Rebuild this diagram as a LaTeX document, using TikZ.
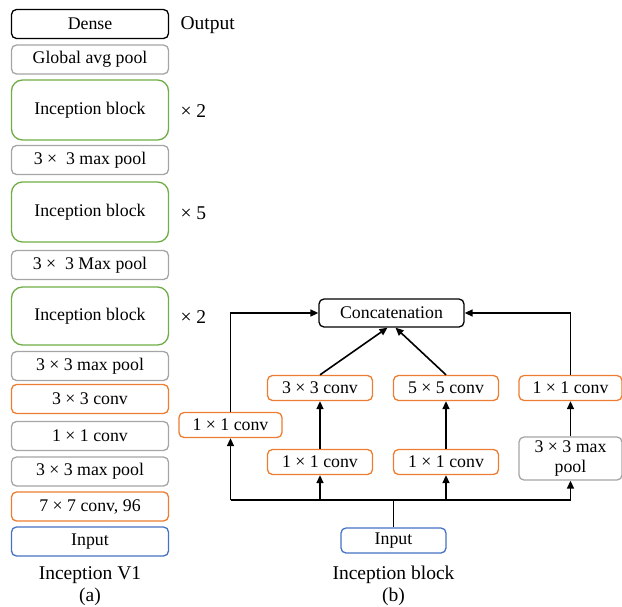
\documentclass[tikz,border=0pt]{standalone}
\usepackage{fontspec}
\setmainfont{Liberation Serif}
\usepackage{xcolor}
\usepackage{tikz}
\usetikzlibrary{arrows.meta}
\definecolor{boxgray}{HTML}{A5A5A5}
\definecolor{boxgreen}{HTML}{70AD47}
\definecolor{boxorange}{HTML}{ED7D31}
\definecolor{boxblue}{HTML}{4472C4}

\tikzset{
  layer/.style={draw=#1, line width=1.3pt, rounded corners=5pt, inner sep=0pt,
    minimum width=157pt, minimum height=29pt, align=center,
    font=\fontsize{17.8}{20}\selectfont},
  block/.style={layer=boxgreen, rounded corners=11pt, minimum height=60pt},
  unit/.style={layer=#1, minimum width=105pt, minimum height=25pt},
  tag/.style={font=\fontsize{19.5}{22}\selectfont},
  flow/.style={line width=1.6pt, -{Triangle[length=8pt,width=7pt]}},
  wire/.style={line width=1.6pt}
}

\begin{document}
\begin{tikzpicture}[x=1pt, y=-1pt]
    \useasboundingbox (0,0) rectangle (622,606);
    % (a) Inception V1
    \node[layer=black] (dense) at (90,24) {Dense};
    \node[layer=boxgray] (gap) at (90,59.5) {Global avg pool};
    \node[block] (inca) at (90,110) {Inception block};
    \node[layer=boxgray] (poola) at (90,160) {3 × \ 3 max pool};
    \node[block] (incb) at (90,212) {Inception block};
    \node[layer=boxgray] (poolb) at (90,265) {3 × \ 3 Max pool};
    \node[block, minimum height=58pt] (incc) at (90,316) {Inception block};
    \node[layer=boxgray] (poolc) at (90,366) {3 × 3 max pool};
    \node[layer=boxorange] (convc) at (90,399) {3 × 3 conv};
    \node[layer=boxgray] (convb) at (90,436) {1 × 1 conv};
    \node[layer=boxgray] (poold) at (90,471.5) {3 × 3 max pool};
    \node[layer=boxorange] (conva) at (90,506.5) {7 × 7 conv, 96};
    \node[layer=boxblue] (ina) at (90,541.5) {Input};
    \node[tag, anchor=west] (out) at (177,25) {Output};
    \node[tag, anchor=west] (repa) at (177,111) {× 2};
    \node[tag, anchor=west] (repb) at (177,213) {× 5};
    \node[tag, anchor=west] (repc) at (177,317) {× 2};
    \node[tag, align=center] (capa) at (90,586) {Inception V1\\(a)};

    % (b) Inception block
    \node[unit=black, minimum width=145pt, minimum height=28pt] (concat) at (391.5,313) {Concatenation};
    \node[unit=boxorange] (cthree) at (320,388) {3 × 3 conv};
    \node[unit=boxorange] (cfive) at (446,388) {5 × 5 conv};
    \node[unit=boxorange, minimum width=103pt] (cpool) at (570.5,388) {1 × 1 conv};
    \node[unit=boxorange, minimum width=103pt] (cone) at (230.5,425) {1 × 1 conv};
    \node[unit=boxorange] (rthree) at (320,462) {1 × 1 conv};
    \node[unit=boxorange] (rfive) at (446,462) {1 × 1 conv};
    \node[unit=boxgray, minimum width=103pt, minimum height=43pt] (mpool) at (570.5,458.5) {3 × 3 max\\pool};
    \node[unit=boxblue] (inb) at (393.5,540.5) {Input};
    \node[tag, align=center] (capb) at (393.5,586) {Inception block\\(b)};

    \coordinate (bus) at (393.5,500);
    \coordinate (busl) at (230.5,500);
    \coordinate (busr) at (570.5,500);
    \draw[wire] (inb.north) -- (bus);
    \draw[wire] (busl) -- (busr);
    \draw[flow] (busl) -- (cone.south);
    \draw[flow] (rthree.south |- bus) -- (rthree.south);
    \draw[flow] (rfive.south |- bus) -- (rfive.south);
    \draw[flow] (busr) -- (mpool.south);
    \draw[flow] (rthree) -- (cthree);
    \draw[flow] (rfive) -- (cfive);
    \draw[flow] (mpool) -- (cpool);
    \draw[flow] (cthree.north) -- ([xshift=-4pt]concat.south);
    \draw[flow] (cfive.north) -- ([xshift=4pt]concat.south);
    \draw[flow] (cone.north) |- (concat.west);
    \draw[flow] (cpool.north) |- (concat.east);
\end{tikzpicture}
\end{document}
